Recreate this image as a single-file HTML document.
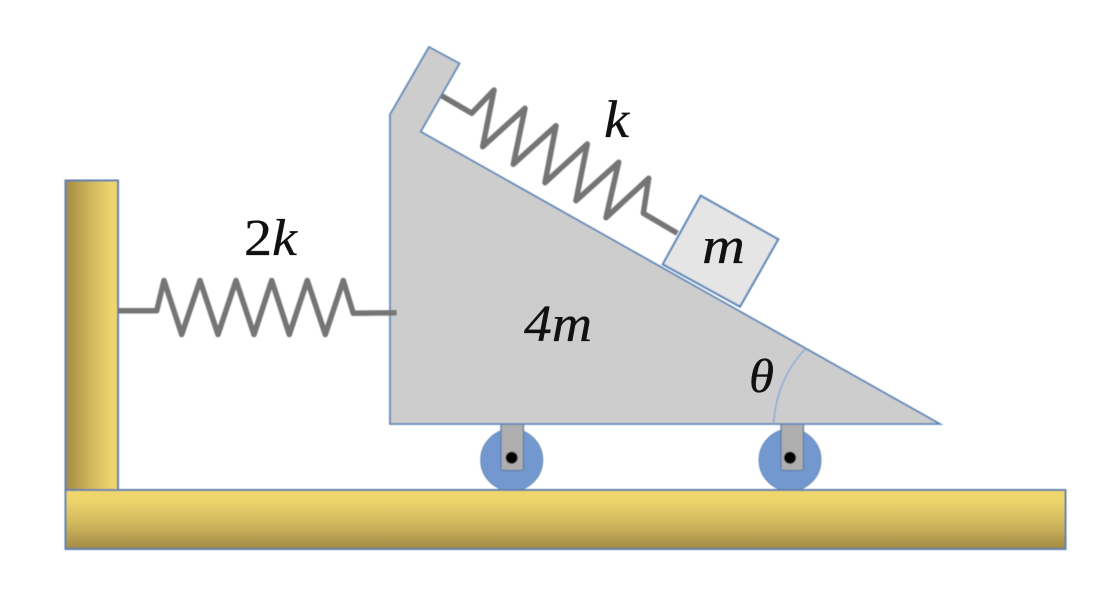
<!DOCTYPE html>
<html><head><meta charset="utf-8"><style>
html,body{margin:0;padding:0;background:#fff;width:1119px;height:607px;overflow:hidden}
svg{display:block}
text{font-family:"Liberation Serif",serif;font-style:italic;fill:#111;stroke:#111;stroke-width:.3}
</style></head><body>
<svg width="1119" height="607" viewBox="0 0 1119 607" xmlns="http://www.w3.org/2000/svg">
<defs>
<linearGradient id="gv" x1="0" y1="0" x2="0" y2="1"><stop offset="0" stop-color="#f0d86e"/><stop offset=".2" stop-color="#ecd36b"/><stop offset=".6" stop-color="#cdb55c"/><stop offset="1" stop-color="#a28a45"/></linearGradient>
<linearGradient id="gh" x1="0" y1="0" x2="1" y2="0"><stop offset="0" stop-color="#a28a45"/><stop offset=".45" stop-color="#cdb55c"/><stop offset=".85" stop-color="#ecd36b"/><stop offset="1" stop-color="#f0d86e"/></linearGradient>
<filter id="b" x="-5%" y="-5%" width="110%" height="110%"><feGaussianBlur stdDeviation=".55"/></filter>
</defs>
<g filter="url(#b)">
<circle cx="511.7" cy="460" r="31" fill="#7398cf" stroke="#6d8db8" stroke-width="1"/>
<circle cx="790" cy="460" r="31" fill="#7398cf" stroke="#6d8db8" stroke-width="1"/>
<rect x="501" y="420" width="22.5" height="50.5" rx="2" fill="#aeaeae" stroke="#5f7fa8" stroke-width="1.3"/>
<rect x="781" y="420" width="22.5" height="50.5" rx="2" fill="#aeaeae" stroke="#5f7fa8" stroke-width="1.3"/>
<circle cx="511.7" cy="457.7" r="6" fill="#000"/>
<circle cx="790" cy="457.7" r="6" fill="#000"/>
<rect x="65.5" y="180.5" width="52.5" height="309.5" fill="url(#gh)" stroke="#5f80ab" stroke-width="2"/>
<rect x="65.5" y="490" width="1000" height="59" fill="url(#gv)" stroke="#5f80ab" stroke-width="2"/>
<polygon points="429,47 459.5,63.5 420.7,131.7 940,424 390,424 390,114.5" fill="#cdcdcd" stroke="#5f88b8" stroke-width="1.8" stroke-linejoin="miter"/>
<polygon points="700.7,195.7 778.3,239.3 740,306.7 662.7,264.3" fill="#e5e5e5" stroke="#5f88b8" stroke-width="2.1"/>
<path d="M773.5,424 Q777,378 805,349.5" fill="none" stroke="#86abd6" stroke-width="1.5"/>
<polyline points="118,310.7 156.7,310.7 164,280.5 181.7,334.5 200,280.5 218,334.5 236,280.5 254,334.5 271.7,280.5 289.3,334.5 307.3,280.5 325.3,334.5 343.3,280.5 353.3,313.3 396.7,312.7" fill="none" stroke="#767474" stroke-width="5.5" stroke-linejoin="round"/>
<polyline points="441.7,95.7 471.7,113.3 494,90 482.7,146.7 525,108.3 513.3,164.3 556,125.7 545,182.7 587.3,144 576,200.7 618.7,162.3 606,217.7 648.7,178.3 643.3,213.3 677.3,233.3" fill="none" stroke="#767474" stroke-width="5.5" stroke-linejoin="round"/>
</g>
<g style="filter:blur(.35px)">
<text x="244" y="255" font-size="52" textLength="53" lengthAdjust="spacingAndGlyphs"><tspan style="font-style:normal">2</tspan>k</text>
<text x="604" y="137" font-size="53" textLength="25" lengthAdjust="spacingAndGlyphs">k</text>
<text x="702" y="263" font-size="52" textLength="43" lengthAdjust="spacingAndGlyphs">m</text>
<text x="524" y="341" font-size="52" textLength="68" lengthAdjust="spacingAndGlyphs">4m</text>
<text x="749" y="392" font-size="48" textLength="25" lengthAdjust="spacingAndGlyphs">θ</text>
</g>
</svg>
</body></html>
